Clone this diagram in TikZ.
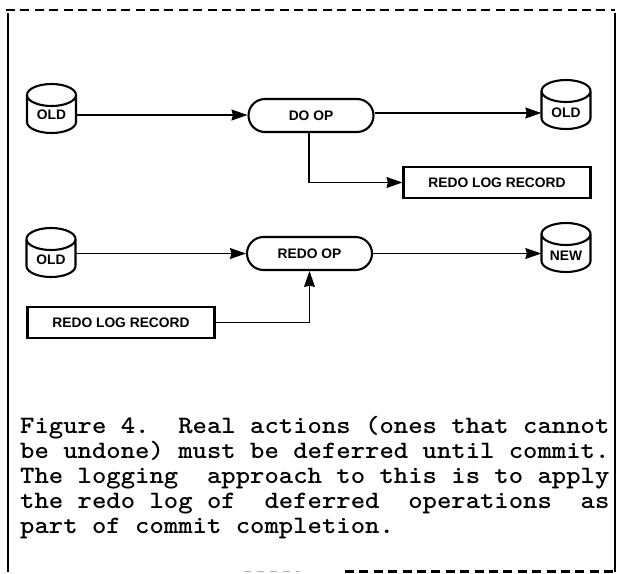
\documentclass[tikz,border=0pt]{standalone}
\usepackage{fontspec}
\newfontfamily\labelfont[Scale=1]{Liberation Sans}
\usetikzlibrary{arrows.meta,shapes.misc,positioning}
\tikzset{
  x=1pt,y=-1pt,
  boxline/.style={line width=2.1pt,black},
  framethick/.style={line width=2.4pt,black},
  flow/.style={line width=1.1pt,black,-{Stealth[length=16pt,width=11pt,inset=1.5pt]}},
  lbl/.style={font=\labelfont\bfseries\fontsize{13.8}{14}\selectfont,inner sep=0pt},
  pill/.style={rounded rectangle,draw,boxline,minimum width=125pt,minimum height=33pt,inner sep=0pt,font=\labelfont\bfseries\fontsize{13.8}{14}\selectfont},
  recbox/.style={rectangle,draw,boxline,minimum width=187pt,minimum height=31pt,inner sep=0pt,font=\labelfont\bfseries\fontsize{13.8}{14}\selectfont},
  cyltext/.style={lbl,minimum width=49pt,minimum height=14pt},
  caption/.style={anchor=base west,inner sep=0pt,xscale=1.095,font=\ttfamily\bfseries\fontsize{25}{25}\selectfont}
}
\newcommand{\cylnode}[5]{% name, x, ytop, text offset, label
  \draw[boxline,line join=round] (#2-24.5,#3+11) -- (#2-24.5,#3+38)
     arc[start angle=180,end angle=360,x radius=24.5pt,y radius=11pt]
     -- (#2+24.5,#3+11)
     arc[start angle=0,end angle=180,x radius=24.5pt,y radius=11pt]
     arc[start angle=180,end angle=360,x radius=24.5pt,y radius=11pt];
  \node[cyltext] (#1) at (#2,#3+#4) {#5};
}
\begin{document}
\begin{tikzpicture}
\useasboundingbox (0,0) rectangle (617,573);
% frame
\draw[framethick] (8,13) -- (8,572);
\draw[framethick] (615,13) -- (615,572);
\draw[line width=2.2pt,dash pattern=on 9pt off 5.4pt] (6,10) -- (615,10);
\draw[line width=2.2pt,dash pattern=on 9pt off 5.4pt] (345,571.5) -- (615,571.5);
\draw[line width=1pt,gray!60,dash pattern=on 7pt off 6pt] (244,571.5) -- (300,571.5);
% top row
\cylnode{oa}{51.5}{84}{31}{OLD}
\cylnode{ob}{566}{80}{33}{OLD}
\node[pill] (doop) at (311,115.5) {DO OP};
\node[recbox] (ra) at (497,182.5) {REDO LOG RECORD};
% bottom row
\cylnode{oc}{51}{228}{32}{OLD}
\cylnode{nw}{566}{223}{33}{NEW}
\node[pill] (redo) at (309.5,253.5) {REDO OP};
\node[recbox] (rb) at (121,322.5) {REDO LOG RECORD};
% connectors
\draw[flow] (oa.east) -- (oa.east -| doop.west);
\draw[flow] (ob.west -| doop.east) -- (ob.west);
\draw[flow] ([xshift=-2pt]doop.south) |- (ra.west);
\draw[flow] (redo.west -| oc.east) -- (redo.west);
\draw[flow] (redo.east) -- (redo.east -| nw.west);
\draw[flow] (rb.east) -| (redo.south);
% caption
\node[caption] (c1) at (20,433) {Figure 4.~~Real actions (ones that cannot};
\node[caption] (c2) at (20,458) {be undone) must be deferred until commit.};
\node[caption] (c3) at (20,483) {The logging~~approach to this is to apply};
\node[caption] (c4) at (20,508) {the redo log of~~deferred~~operations~~as};
\node[caption] (c5) at (20,533) {part of commit completion.};
\end{tikzpicture}
\end{document}
